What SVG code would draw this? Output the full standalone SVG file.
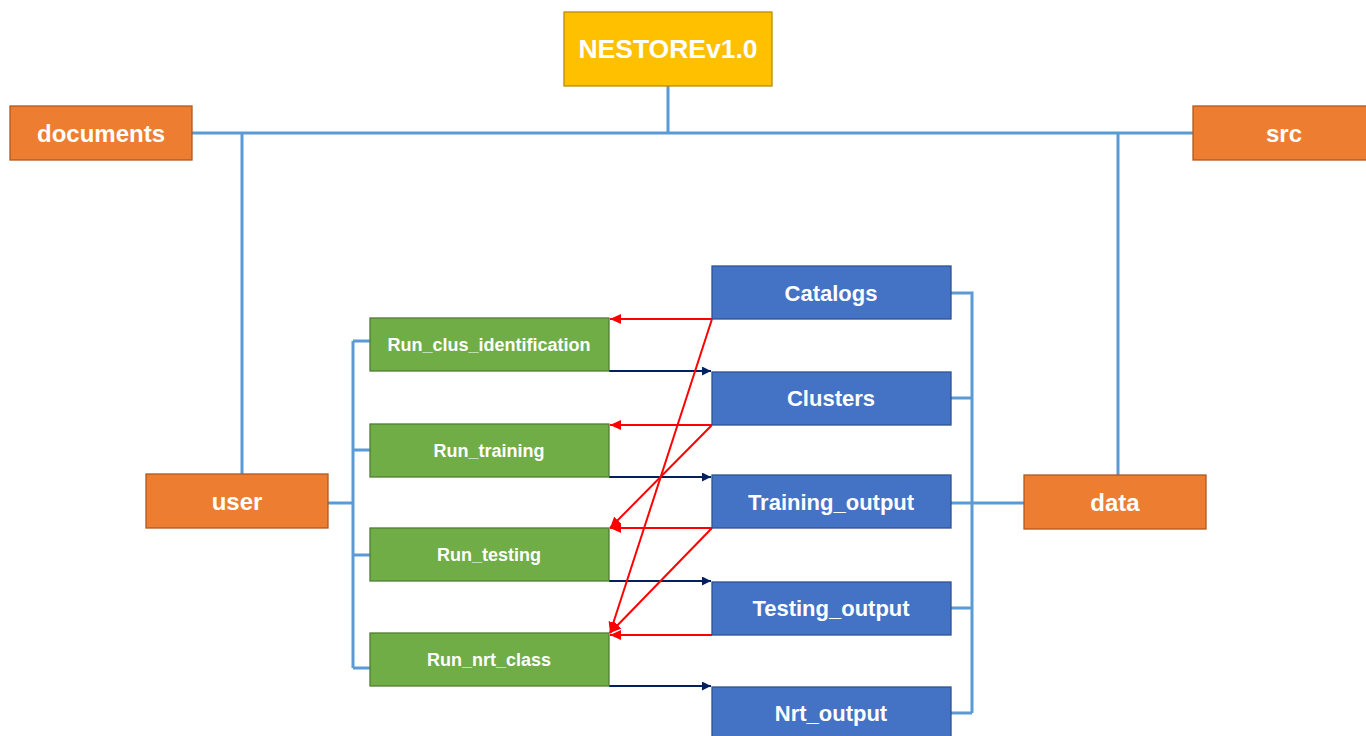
<svg xmlns="http://www.w3.org/2000/svg" width="1366" height="736" viewBox="0 0 1366 736">
<style>
.or{fill:#ED7D31;stroke:#AE5A21;stroke-width:1.3}
.gr{fill:#70AD47;stroke:#507E32;stroke-width:1.3}
.bl{fill:#4472C4;stroke:#2F528F;stroke-width:1.3}
.gd{fill:#FFC000;stroke:#BC8C00;stroke-width:1.3}
text{font-family:"Liberation Sans",Arial,sans-serif;font-weight:bold;fill:#FFFFFF;text-anchor:middle;dominant-baseline:central}
.t1{font-size:26.5px}
.t2{font-size:24px}
.t3{font-size:22px}
.t4{font-size:18px}
.bus{fill:none;stroke:#5B9BD5;stroke-width:3}
.red{fill:none;stroke:#FF0000;stroke-width:2}
.nav{fill:none;stroke:#002060;stroke-width:2}
</style>
<defs>
<marker id="ar" markerUnits="userSpaceOnUse" markerWidth="12" markerHeight="10" refX="11" refY="5" orient="auto"><path d="M0,0 L11,5 L0,10 Z" fill="#FF0000"/></marker>
<marker id="an" markerUnits="userSpaceOnUse" markerWidth="10" markerHeight="9" refX="9" refY="4.5" orient="auto"><path d="M0,0 L9,4.5 L0,9 Z" fill="#002060"/></marker>
</defs>
<rect width="1366" height="736" fill="#FFFFFF"/>
<g id="connectors">
<path class="bus" d="M668,86 V133 M192,133 H1193 M242,133 V474 M1118,133 V475"/>
<path class="bus" d="M328,503 H353 M353,341 V668 M353,341 H370 M353,450 H370 M353,555 H370 M353,668 H370"/>
<path class="bus" d="M951,293 H972 V713 M951,398 H972 M951,503 H1024 M951,608 H972 M951,713 H972"/>
<path class="nav" marker-end="url(#an)" d="M609,371 H711"/>
<path class="nav" marker-end="url(#an)" d="M609,477 H711"/>
<path class="nav" marker-end="url(#an)" d="M609,581 H711"/>
<path class="nav" marker-end="url(#an)" d="M609,686 H711"/>
<path class="red" marker-end="url(#ar)" d="M712,319 H610"/>
<path class="red" marker-end="url(#ar)" d="M712,425 H610"/>
<path class="red" marker-end="url(#ar)" d="M712,528 H610"/>
<path class="red" marker-end="url(#ar)" d="M712,635 H610"/>
<path class="red" marker-end="url(#ar)" d="M712,319 L610,633"/>
<path class="red" marker-end="url(#ar)" d="M712,425 L610,528"/>
<path class="red" marker-end="url(#ar)" d="M712,528 L610,633"/>
</g>
<g id="nestore"><rect class="gd" x="564" y="12" width="208" height="74"/><text class="t1" x="668" y="49">NESTOREv1.0</text></g>
<g id="documents"><rect class="or" x="10" y="106" width="182" height="54"/><text class="t2" x="101" y="133">documents</text></g>
<g id="src"><rect class="or" x="1193" y="106" width="182" height="54"/><text class="t2" x="1284" y="133">src</text></g>
<g id="user"><rect class="or" x="146" y="474" width="182" height="54"/><text class="t2" x="237" y="501">user</text></g>
<g id="data"><rect class="or" x="1024" y="475" width="182" height="54"/><text class="t2" x="1115" y="502">data</text></g>
<g id="run_clus"><rect class="gr" x="370" y="318" width="239" height="53"/><text class="t4" x="489" y="345">Run_clus_identification</text></g>
<g id="run_training"><rect class="gr" x="370" y="424" width="239" height="53"/><text class="t4" x="489" y="451">Run_training</text></g>
<g id="run_testing"><rect class="gr" x="370" y="528" width="239" height="53"/><text class="t4" x="489" y="555">Run_testing</text></g>
<g id="run_nrt"><rect class="gr" x="370" y="633" width="239" height="53"/><text class="t4" x="489" y="660">Run_nrt_class</text></g>
<g id="catalogs"><rect class="bl" x="712" y="266" width="239" height="53"/><text class="t3" x="831" y="293">Catalogs</text></g>
<g id="clusters"><rect class="bl" x="712" y="372" width="239" height="53"/><text class="t3" x="831" y="398">Clusters</text></g>
<g id="training_output"><rect class="bl" x="712" y="475" width="239" height="53"/><text class="t3" x="831" y="502">Training_output</text></g>
<g id="testing_output"><rect class="bl" x="712" y="582" width="239" height="53"/><text class="t3" x="831" y="608">Testing_output</text></g>
<g id="nrt_output"><rect class="bl" x="712" y="687" width="239" height="60"/><text class="t3" x="831" y="713">Nrt_output</text></g>
</svg>
